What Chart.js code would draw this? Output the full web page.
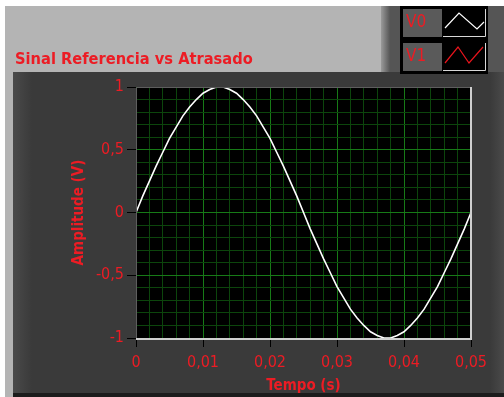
<!DOCTYPE html>
<html>
<head>
<meta charset="utf-8">
<script src="https://cdn.jsdelivr.net/npm/chart.js@4.4.1/dist/chart.umd.min.js"></script>
<style>
  html, body { margin: 0; padding: 0; background: #ffffff; }
  canvas { display: block; }
</style>
</head>
<body>
<canvas id="c" width="504" height="397"></canvas>
<script>
// Time base (s) of the acquired waveform
const tempo = [
  0.000, 0.001, 0.002, 0.003, 0.004, 0.005, 0.006, 0.007, 0.008, 0.009,
  0.010, 0.011, 0.012, 0.013, 0.014, 0.015, 0.016, 0.017, 0.018, 0.019,
  0.020, 0.021, 0.022, 0.023, 0.024, 0.025, 0.026, 0.027, 0.028, 0.029,
  0.030, 0.031, 0.032, 0.033, 0.034, 0.035, 0.036, 0.037, 0.038, 0.039,
  0.040, 0.041, 0.042, 0.043, 0.044, 0.045, 0.046, 0.047, 0.048, 0.049,
  0.050
];
// Reference signal V0 (V)
const v0 = [
  0.00, 0.13, 0.25, 0.37, 0.48, 0.59, 0.68, 0.77, 0.84, 0.90,
  0.95, 0.98, 1.00, 1.00, 0.98, 0.95, 0.90, 0.84, 0.77, 0.68,
  0.59, 0.48, 0.37, 0.25, 0.13, 0.00, -0.13, -0.25, -0.37, -0.48,
  -0.59, -0.68, -0.77, -0.84, -0.90, -0.95, -0.98, -1.00, -1.00, -0.98,
  -0.95, -0.90, -0.84, -0.77, -0.68, -0.59, -0.48, -0.37, -0.25, -0.13,
  0.00
];
// Delayed signal V1 (no samples plotted)
const v1 = [];

const seriesNames = ['V0', 'V1'];
const chartTitle = 'Sinal Referencia vs Atrasado';
const xTitle = 'Tempo (s)';
const yTitle = 'Amplitude (V)';

const RED = '#ec1c24';
const FONT = "'DejaVu Sans Condensed', 'DejaVu Sans', sans-serif";

const fmt = v => {
  if (Math.abs(v) < 1e-9) return '0';
  return String(v).replace('.', ',');
};
const isMajorX = v => Math.abs(v * 100 - Math.round(v * 100)) < 1e-6;
const isMajorY = v => Math.abs(v * 2 - Math.round(v * 2)) < 1e-6;

// Panel, frame and legend painted around the graph
const framePlugin = {
  id: 'frame',
  beforeDraw(chart) {
    const ctx = chart.ctx;
    const a = chart.chartArea;
    ctx.save();
    ctx.fillStyle = '#ffffff';
    ctx.fillRect(0, 0, 504, 397);
    // light grey caption band and left strip
    ctx.fillStyle = '#b4b4b4';
    ctx.fillRect(5, 6, 380, 66);
    ctx.fillRect(5, 72, 8, 325);
    // dark graph panel
    ctx.fillStyle = '#3a3a3a';
    ctx.fillRect(13, 72, 491, 322);
    let g = ctx.createLinearGradient(13, 0, 32, 0);
    g.addColorStop(0, '#4a4a4a');
    g.addColorStop(1, '#3a3a3a');
    ctx.fillStyle = g;
    ctx.fillRect(13, 72, 19, 322);
    g = ctx.createLinearGradient(490, 0, 504, 0);
    g.addColorStop(0, '#3a3a3a');
    g.addColorStop(1, '#4a4a4a');
    ctx.fillStyle = g;
    ctx.fillRect(490, 72, 14, 322);
    ctx.fillStyle = '#1c1c1c';
    ctx.fillRect(13, 393, 491, 4);
    // legend block background
    ctx.fillStyle = '#555555';
    ctx.fillRect(385, 6, 119, 66);
    g = ctx.createLinearGradient(381, 0, 390, 0);
    g.addColorStop(0, '#9a9a9a');
    g.addColorStop(1, '#555555');
    ctx.fillStyle = g;
    ctx.fillRect(381, 6, 9, 66);
    // plot background
    ctx.fillStyle = '#000000';
    ctx.fillRect(a.left, a.top, a.right - a.left, a.bottom - a.top);
    ctx.restore();
  },
  afterDraw(chart) {
    const ctx = chart.ctx;
    const a = chart.chartArea;
    ctx.save();
    // plot frame
    ctx.strokeStyle = '#5e5e5e';
    ctx.lineWidth = 1;
    ctx.beginPath();
    ctx.moveTo(a.left + 0.5, a.bottom);
    ctx.lineTo(a.left + 0.5, a.top + 0.5);
    ctx.lineTo(a.right, a.top + 0.5);
    ctx.stroke();
    ctx.strokeStyle = '#cfcfcf';
    ctx.lineWidth = 2;
    ctx.beginPath();
    ctx.moveTo(a.right, a.top);
    ctx.lineTo(a.right, a.bottom + 1);
    ctx.lineTo(a.left, a.bottom + 1);
    ctx.stroke();

    // caption
    ctx.fillStyle = RED;
    ctx.font = 'bold 16.3px ' + FONT;
    ctx.textBaseline = 'alphabetic';
    ctx.textAlign = 'left';
    ctx.fillText(chartTitle, 15, 64);

    // legend
    ctx.fillStyle = '#000000';
    ctx.fillRect(400, 6, 88, 68);
    const icons = [
      [[445, 28], [459, 13], [477, 29], [484, 22]],
      [[445, 29], [458, 13], [469, 29], [483, 13]]
    ];
    chart.data.datasets.forEach((ds, i) => {
      const y0 = 9 + i * 34;
      ctx.fillStyle = '#5a5a5a';
      ctx.fillRect(403, y0, 39, 28);
      ctx.fillStyle = '#000000';
      ctx.fillRect(443, y0, 43, 28);
      ctx.strokeStyle = '#d8d8d8';
      ctx.lineWidth = 1;
      ctx.beginPath();
      ctx.moveTo(485.5, y0);
      ctx.lineTo(485.5, y0 + 27.5);
      ctx.lineTo(443, y0 + 27.5);
      ctx.stroke();
      ctx.fillStyle = RED;
      ctx.font = '17px ' + FONT;
      ctx.textBaseline = 'middle';
      ctx.fillText(ds.label, 406, y0 + 14);
      ctx.strokeStyle = ds.borderColor;
      ctx.lineWidth = 1.2;
      ctx.beginPath();
      icons[i].forEach((p, k) => {
        const py = p[1] + i * 34;
        if (k === 0) ctx.moveTo(p[0], py); else ctx.lineTo(p[0], py);
      });
      ctx.stroke();
    });
    ctx.restore();
  }
};

new Chart(document.getElementById('c'), {
  type: 'line',
  data: {
    datasets: [
      {
        label: seriesNames[0],
        data: tempo.map((t, i) => ({ x: t, y: v0[i] })),
        borderColor: '#ffffff',
        borderWidth: 1.6,
        pointRadius: 0,
        tension: 0
      },
      {
        label: seriesNames[1],
        data: v1.map((y, i) => ({ x: tempo[i], y })),
        borderColor: '#e8141c',
        borderWidth: 1.2,
        pointRadius: 0,
        tension: 0
      }
    ]
  },
  options: {
    responsive: false,
    animation: false,
    devicePixelRatio: 1,
    layout: { padding: { left: 0, top: 87, right: 33, bottom: 0 } },
    plugins: {
      legend: { display: false },
      title: { display: false },
      tooltip: { enabled: false }
    },
    scales: {
      x: {
        type: 'linear',
        min: 0,
        max: 0.05,
        afterFit(s) { s.height = 59; },
        ticks: {
          stepSize: 0.002,
          autoSkip: false,
          maxRotation: 0,
          padding: 6,
          color: RED,
          font: { family: FONT, size: 16 },
          callback: v => isMajorX(v) ? fmt(Math.round(v * 100) / 100) : ''
        },
        grid: {
          color: c => isMajorX(c.tick.value) ? '#177a17' : '#0c450c',
          lineWidth: 1,
          tickLength: 9,
          tickColor: c => isMajorX(c.tick.value) ? '#000000' : 'rgba(0,0,0,0)'
        },
        border: { display: false },
        title: {
          display: true,
          text: xTitle,
          color: RED,
          font: { family: FONT, size: 15, weight: 'bold' },
          padding: { top: 0, bottom: 2 }
        }
      },
      y: {
        type: 'linear',
        min: -1,
        max: 1,
        afterFit(s) { s.width = 136; },
        ticks: {
          stepSize: 0.1,
          autoSkip: false,
          padding: 3,
          color: RED,
          font: { family: FONT, size: 16 },
          callback: v => isMajorY(v) ? fmt(Math.round(v * 10) / 10) : ''
        },
        grid: {
          color: c => isMajorY(c.tick.value) ? '#177a17' : '#0c450c',
          lineWidth: 1,
          tickLength: 9,
          tickColor: c => isMajorY(c.tick.value) ? '#000000' : 'rgba(0,0,0,0)'
        },
        border: { display: false },
        title: {
          display: true,
          text: yTitle,
          color: RED,
          font: { family: FONT, size: 15, weight: 'bold' },
          padding: { top: 70, bottom: 0 }
        }
      }
    }
  },
  plugins: [framePlugin]
});
</script>
</body>
</html>
